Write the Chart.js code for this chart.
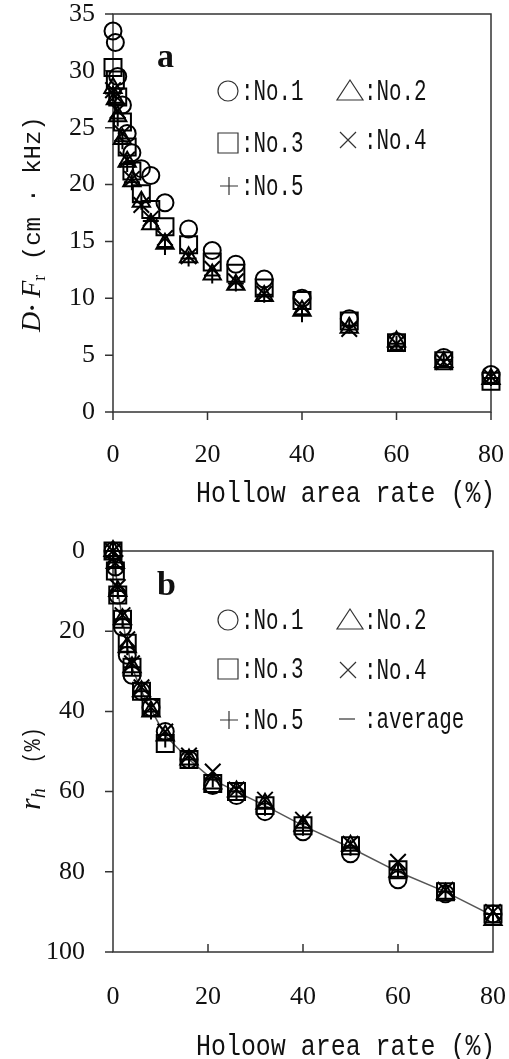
<!DOCTYPE html>
<html>
<head>
<meta charset="utf-8">
<script src="https://cdn.jsdelivr.net/npm/chart.js@4.4.1/dist/chart.umd.min.js"></script>
<style>
    html, body { margin: 0; padding: 0; background: #fff; }
    .panel { position: absolute; left: 0; width: 509px; }
    #panelA { top: 0; height: 530px; }
    #panelB { top: 530px; height: 529px; }
</style>
</head>
<body>
<div class="panel" id="panelA"><canvas id="chartA" width="509" height="530"></canvas></div>
<div class="panel" id="panelB"><canvas id="chartB" width="509" height="529"></canvas></div>
<script>
// Hollow area rate (%) - same positions for every specimen
const hollowRate = [0, 0.5, 1, 2, 3, 4, 6, 8, 11, 16, 21, 26, 32, 40, 50, 60, 70, 80];

// panel a: D·Fr (cm·kHz)
const dfNo1 = [33.5, 32.5, 29.5, 27.0, 24.5, 22.8, 21.4, 20.8, 18.4, 16.1, 14.2, 13.0, 11.7, 10.0, 8.2, 6.2, 4.8, 3.3];
const dfNo2 = [28.5, 27.5, 26.0, 24.0, 22.0, 20.3, 18.5, 16.5, 14.8, 13.6, 12.1, 11.2, 10.2, 8.9, 7.4, 6.2, 4.4, 2.9];
const dfNo3 = [30.3, 29.2, 27.7, 25.5, 23.3, 21.2, 19.2, 17.8, 16.3, 14.7, 13.2, 12.2, 10.9, 9.8, 8.0, 6.1, 4.5, 2.7];
const dfNo4 = [28.3, 27.8, 26.5, 24.5, 22.2, 20.5, 18.2, 17.0, 15.3, 13.7, 12.6, 11.5, 10.4, 9.3, 7.3, 6.0, 4.4, 3.1];
const dfNo5 = [28.0, 27.2, 25.8, 23.8, 21.8, 20.2, 18.5, 16.8, 14.5, 13.5, 12.0, 11.3, 10.3, 8.6, 7.6, 6.0, 4.6, 3.0];

// panel b: rh (%)
const rhNo1 = [0, 4, 11, 19, 26, 31, 35, 39, 45, 52, 58.5, 61, 65, 70, 75.5, 82, 85.5, 90.5];
const rhNo2 = [0, 3, 10, 17, 24, 29, 35, 40, 46, 52, 58, 60, 63, 68.5, 73.5, 80, 85.5, 92];
const rhNo3 = [0, 5, 11, 17, 23, 29, 35, 39, 48, 52, 58, 60, 63.5, 68.5, 73.5, 79.5, 85, 90.5];
const rhNo4 = [0, 3, 9, 16, 22, 28, 34, 39, 45, 51, 55, 59.5, 62, 67, 73, 77.5, 84.5, 90];
const rhNo5 = [0, 4, 10, 17, 24, 29, 35, 40, 47, 52, 57, 60, 64, 69, 74, 79.5, 85, 90.5];
const rhAverage = [0, 4, 10, 17, 24, 29, 35, 39.5, 46, 52, 57, 60, 63.5, 68.5, 74, 80, 85, 91];

// tick labels
const xTicks = [0, 20, 40, 60, 80];
const yTicksA = [0, 5, 10, 15, 20, 25, 30, 35];
const yTicksB = [0, 20, 40, 60, 80, 100];

const MONO = '"Liberation Mono", monospace';
const SERIF = '"Liberation Serif", serif';

function serie(label, values, style, radius) {
    return {
        label: label,
        data: hollowRate.map((x, i) => ({ x: x, y: values[i] })),
        pointStyle: style,
        pointRadius: radius,
        pointHoverRadius: radius,
        borderColor: '#000',
        backgroundColor: 'rgba(0,0,0,0)',
        pointBorderWidth: 2,
        borderWidth: 2,
        showLine: false,
        clip: false,
        order: 1
    };
}

// draws a row of text pieces (font, vertical shift, horizontal squeeze)
function drawRuns(ctx, runs, x, y) {
    let cx = x;
    runs.forEach(r => {
        const sx = r.sx || 1;
        ctx.font = r.font;
        ctx.save();
        ctx.translate(cx, y + (r.dy || 0));
        ctx.scale(sx, 1);
        ctx.fillText(r.t, 0, 0);
        ctx.restore();
        cx += ctx.measureText(r.t).width * sx;
    });
}

function symbol(ctx, kind, x, y) {
    ctx.beginPath();
    if (kind === 'circle') {
        ctx.arc(x, y, 10, 0, Math.PI * 2);
    } else if (kind === 'triangle') {
        ctx.moveTo(x, y - 11); ctx.lineTo(x - 13, y + 9); ctx.lineTo(x + 13, y + 9); ctx.closePath();
    } else if (kind === 'rect') {
        ctx.rect(x - 10, y - 10, 20, 20);
    } else if (kind === 'crossRot') {
        ctx.moveTo(x - 8, y - 8); ctx.lineTo(x + 8, y + 8);
        ctx.moveTo(x + 8, y - 8); ctx.lineTo(x - 8, y + 8);
    } else if (kind === 'cross') {
        ctx.moveTo(x - 9, y); ctx.lineTo(x + 9, y);
        ctx.moveTo(x, y - 9); ctx.lineTo(x, y + 9);
    } else if (kind === 'dash') {
        ctx.moveTo(x - 8, y); ctx.lineTo(x + 8, y);
    }
    ctx.stroke();
}

const frame = {
    id: 'frame',
    beforeDatasetsDraw(chart, args, opts) {
        const ctx = chart.ctx;
        const a = chart.chartArea;
        const xs = chart.scales.x;
        const ys = chart.scales.y;
        ctx.save();
        ctx.strokeStyle = '#333';
        ctx.lineWidth = 1.5;
        ctx.strokeRect(a.left, a.top, a.right - a.left, a.bottom - a.top);
        ctx.beginPath();
        opts.yTicks.forEach(v => {
            const py = ys.getPixelForValue(v);
            ctx.moveTo(a.left - 8, py); ctx.lineTo(a.left, py);
        });
        opts.xTicks.forEach(v => {
            const px = xs.getPixelForValue(v);
            ctx.moveTo(px, a.bottom); ctx.lineTo(px, a.bottom + opts.xTickLen);
        });
        ctx.stroke();
        ctx.restore();
    },
    afterDraw(chart, args, opts) {
        const ctx = chart.ctx;
        ctx.save();
        ctx.fillStyle = '#111';
        ctx.textBaseline = 'alphabetic';

        // panel letter
        ctx.font = 'bold 34px ' + SERIF;
        ctx.fillText(opts.letter, 157, opts.letterY);

        // legend
        ctx.strokeStyle = '#333';
        ctx.lineWidth = 1.2;
        opts.legend.forEach(e => {
            symbol(ctx, e.kind, e.sx, e.y);
            drawRuns(ctx, [{ t: e.text, font: '29px ' + MONO, sx: 0.72 }], e.tx, e.y + 9);
        });

        // x title
        drawRuns(ctx, [{ t: opts.xTitle, font: '29px ' + MONO, sx: 0.86 }], 196, opts.xTitleY);

        // y title, rotated
        ctx.translate(opts.yTitleX, opts.yTitleY);
        ctx.rotate(-Math.PI / 2);
        drawRuns(ctx, opts.yTitle, 0, 0);
        ctx.restore();
    }
};

function axisOptions(area, yMin, yMax, reverse, yPad, canvasH, xPad) {
    return {
        x: {
            type: 'linear',
            min: 0, max: 80,
            afterBuildTicks: s => { s.ticks = xTicks.map(v => ({ value: v })); },
            afterFit: s => {
                s.height = canvasH - area.bottom;
                s.paddingLeft = 0; s.paddingRight = 0;
            },
            grid: { display: false, drawTicks: false },
            border: { display: false },
            ticks: { color: '#111', font: { family: 'Liberation Serif', size: 26 }, padding: xPad, maxRotation: 0 }
        },
        y: {
            type: 'linear',
            min: yMin, max: yMax,
            reverse: reverse,
            afterBuildTicks: s => { s.ticks = (reverse ? yTicksB : yTicksA).map(v => ({ value: v })); },
            afterFit: s => {
                s.width = area.left;
                s.paddingTop = 0; s.paddingBottom = 0;
            },
            grid: { display: false, drawTicks: false },
            border: { display: false },
            ticks: { color: '#111', font: { family: 'Liberation Serif', size: 26 }, padding: yPad }
        }
    };
}

function generarPanelA() {
    const ctx = document.getElementById('chartA').getContext('2d');
    const area = { left: 113, top: 14, right: 491, bottom: 412 };
    new Chart(ctx, {
        type: 'scatter',
        data: {
            datasets: [
                serie('No.1', dfNo1, 'circle', 8.5),
                serie('No.2', dfNo2, 'triangle', 10),
                serie('No.3', dfNo3, 'rect', 12),
                serie('No.4', dfNo4, 'crossRot', 11),
                serie('No.5', dfNo5, 'cross', 8)
            ]
        },
        options: {
            responsive: false,
            animation: false,
            layout: { padding: { left: 0, top: area.top, right: 509 - area.right, bottom: 0 } },
            scales: axisOptions(area, 0, 35, false, 18, 530, 28),
            plugins: {
                legend: { display: false },
                tooltip: { enabled: false },
                frame: {
                    xTicks: xTicks, yTicks: yTicksA, xTickLen: 8,
                    letter: 'a', letterY: 67,
                    legend: [
                        { kind: 'circle', sx: 228, y: 91, text: ':No.1', tx: 241 },
                        { kind: 'triangle', sx: 350, y: 91, text: ':No.2', tx: 364 },
                        { kind: 'rect', sx: 228, y: 143, text: ':No.3', tx: 241 },
                        { kind: 'crossRot', sx: 348, y: 140, text: ':No.4', tx: 364 },
                        { kind: 'cross', sx: 229, y: 186, text: ':No.5', tx: 241 }
                    ],
                    xTitle: 'Hollow area rate (%)', xTitleY: 502,
                    yTitleX: 40, yTitleY: 332,
                    yTitle: [
                        { t: 'D', font: 'italic 28px ' + SERIF },
                        { t: '\u00b7 ', font: 'bold 24px ' + SERIF },
                        { t: 'F', font: 'italic 28px ' + SERIF },
                        { t: 'r', font: '18px ' + SERIF, dy: 5 },
                        { t: ' (cm \u00b7 kHz)', font: '24px ' + MONO, sx: 1.0 }
                    ]
                }
            }
        },
        plugins: [frame]
    });
}

function generarPanelB() {
    const ctx = document.getElementById('chartB').getContext('2d');
    const area = { left: 113, top: 21, right: 493, bottom: 422 };
    const promedio = {
        label: 'average',
        data: hollowRate.map((x, i) => ({ x: x, y: rhAverage[i] })),
        showLine: true,
        borderColor: '#555',
        borderWidth: 1.5,
        pointRadius: 0,
        fill: false,
        tension: 0,
        order: 10
    };
    new Chart(ctx, {
        type: 'scatter',
        data: {
            datasets: [
                serie('No.1', rhNo1, 'circle', 8.5),
                serie('No.2', rhNo2, 'triangle', 10),
                serie('No.3', rhNo3, 'rect', 12),
                serie('No.4', rhNo4, 'crossRot', 11),
                serie('No.5', rhNo5, 'cross', 8),
                promedio
            ]
        },
        options: {
            responsive: false,
            animation: false,
            layout: { padding: { left: 0, top: area.top, right: 509 - area.right, bottom: 0 } },
            scales: axisOptions(area, 0, 100, true, 28, 529, 30),
            plugins: {
                legend: { display: false },
                tooltip: { enabled: false },
                frame: {
                    xTicks: [20, 40, 60], yTicks: yTicksB, xTickLen: -8,
                    letter: 'b', letterY: 65,
                    legend: [
                        { kind: 'circle', sx: 228, y: 90, text: ':No.1', tx: 241 },
                        { kind: 'triangle', sx: 350, y: 90, text: ':No.2', tx: 364 },
                        { kind: 'rect', sx: 228, y: 139, text: ':No.3', tx: 241 },
                        { kind: 'crossRot', sx: 348, y: 140, text: ':No.4', tx: 364 },
                        { kind: 'cross', sx: 229, y: 190, text: ':No.5', tx: 241 },
                        { kind: 'dash', sx: 347, y: 189, text: ':average', tx: 364 }
                    ],
                    xTitle: 'Holoow area rate (%)', xTitleY: 525,
                    yTitleX: 40, yTitleY: 280,
                    yTitle: [
                        { t: 'r', font: 'italic 30px ' + SERIF },
                        { t: 'h', font: 'italic 20px ' + SERIF, dy: 5 },
                        { t: '  (%)', font: '24px ' + MONO, sx: 0.85 }
                    ]
                }
            }
        },
        plugins: [frame]
    });
}

generarPanelA();
generarPanelB();
</script>
</body>
</html>
